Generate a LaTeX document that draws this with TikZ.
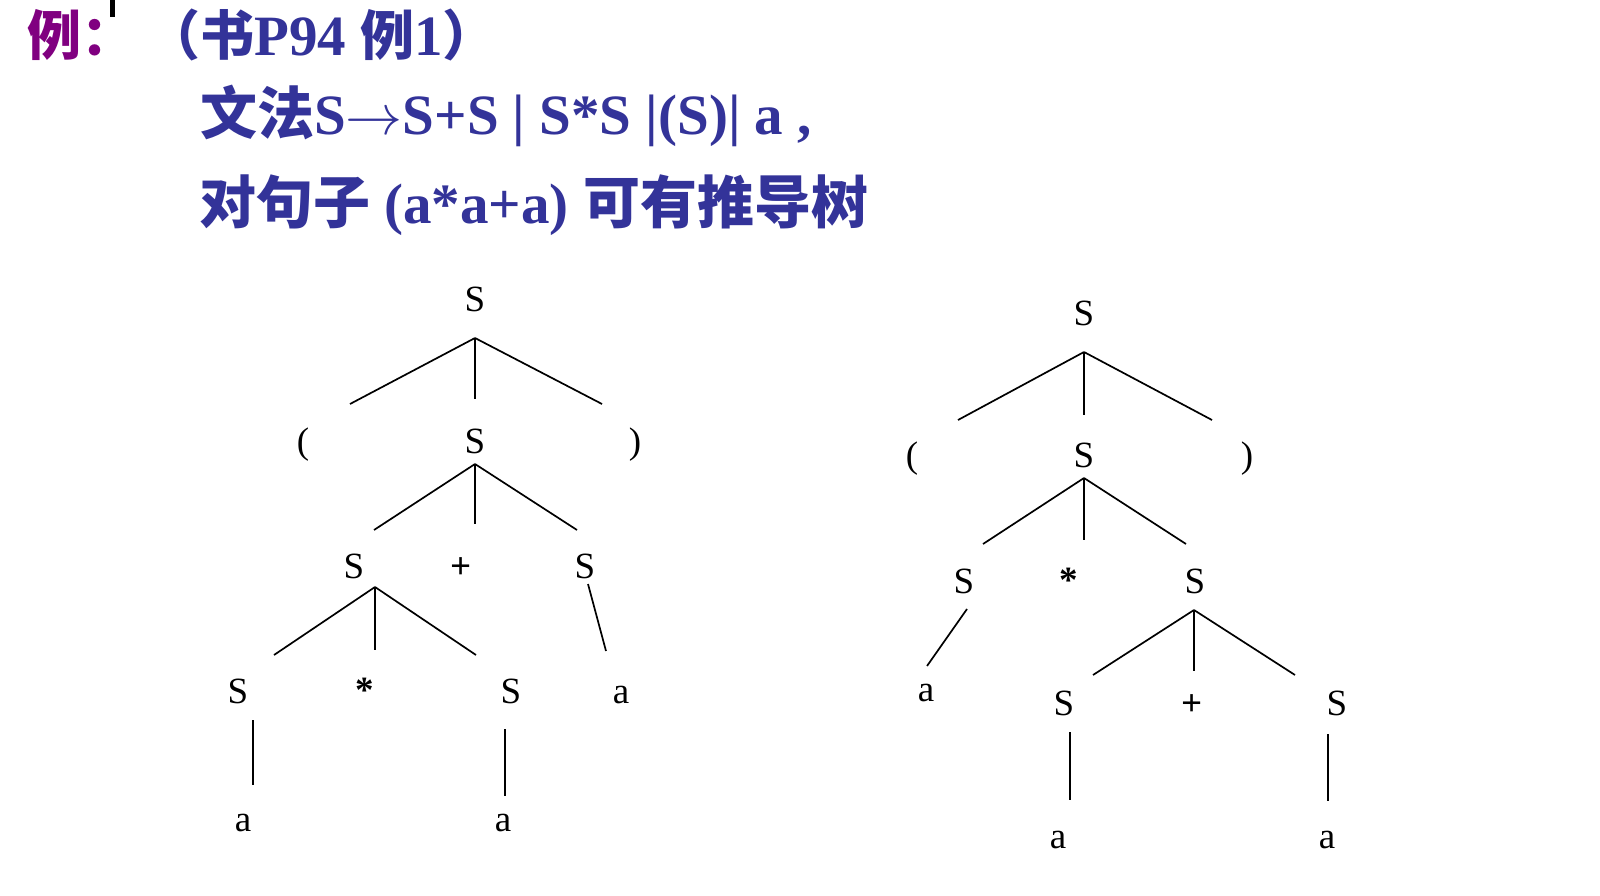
\RequirePackage{fix-cm}
\documentclass[tikz,border=0pt]{standalone}
\usepackage{fontspec}
\setmainfont{Liberation Serif}
\newfontfamily\cjk{Noto Sans CJK SC}
\definecolor{exPurple}{RGB}{128,0,128}
\definecolor{exBlue}{RGB}{51,51,153}
\begin{document}
\begin{tikzpicture}[x=1pt,y=-1pt,
  tt/.style={anchor=base west, inner sep=0pt, text=exBlue, font=\fontsize{57}{68}\selectfont\bfseries},
  tn/.style={anchor=base, inner sep=0pt, font=\fontsize{37}{42}\selectfont},
  to/.style={tn, font=\fontsize{37}{42}\selectfont\bfseries},
  br/.style={line width=1.7pt, black}]
\useasboundingbox (0,0) rectangle (1600,896);
\fill[black] (110,0) rectangle (115,17);
% title
\node[tt, text=exPurple] (ex) at (27,56) {{\cjk\fontsize{54}{64}\selectfont 例：}};
\node[tt] (src) at (146,56) {{\cjk\fontsize{54}{64}\selectfont （书}P94 {\cjk\fontsize{54}{64}\selectfont 例}1{\cjk\fontsize{54}{64}\selectfont ）}};
\node[tt] (gram) at (200,135) {{\cjk 文法}S$\rightarrow$S+S | S*S |(S)| a ,};
\node[tt] (sent) at (199,223) {{\cjk 对句子} (a*a+a) {\cjk 可有推导树}};
% left tree
\node[tn] (L0) at (475,311) {S};
\node[tn] (L1a) at (303,453) {(};
\node[tn] (L1b) at (475,453) {S};
\node[tn] (L1c) at (635,453) {)};
\node[tn] (L2a) at (354,578) {S};
\node[to] (L2b) at (461,578) {+};
\node[tn] (L2c) at (585,578) {S};
\node[tn] (L3a) at (238,703) {S};
\node[to] (L3b) at (365,702) {*};
\node[tn] (L3c) at (511,703) {S};
\node[tn] (L3d) at (621,703) {a};
\node[tn] (L4a) at (243,831) {a};
\node[tn] (L4b) at (503,831) {a};
\draw[br] ([shift={(0,27)}]L0.base) -- ([shift={(47,-49)}]L1a.base);
\draw[br] ([shift={(0,27)}]L0.base) -- ([shift={(0,-54)}]L1b.base);
\draw[br] ([shift={(0,27)}]L0.base) -- ([shift={(-33,-49)}]L1c.base);
\draw[br] ([shift={(0,11)}]L1b.base) -- ([shift={(20,-48)}]L2a.base);
\draw[br] ([shift={(0,11)}]L1b.base) -- ([shift={(14,-54)}]L2b.base);
\draw[br] ([shift={(0,11)}]L1b.base) -- ([shift={(-8,-48)}]L2c.base);
\draw[br] ([shift={(21,9)}]L2a.base) -- ([shift={(36,-48)}]L3a.base);
\draw[br] ([shift={(21,9)}]L2a.base) -- ([shift={(10,-52)}]L3b.base);
\draw[br] ([shift={(21,9)}]L2a.base) -- ([shift={(-35,-48)}]L3c.base);
\draw[br] ([shift={(3,6)}]L2c.base) -- ([shift={(-15,-52)}]L3d.base);
\draw[br] ([shift={(15,17)}]L3a.base) -- ([shift={(10,-46)}]L4a.base);
\draw[br] ([shift={(-6,26)}]L3c.base) -- ([shift={(2,-35)}]L4b.base);
% right tree
\node[tn] (R0) at (1084,325) {S};
\node[tn] (R1a) at (912,467) {(};
\node[tn] (R1b) at (1084,467) {S};
\node[tn] (R1c) at (1247,467) {)};
\node[tn] (R2a) at (964,593) {S};
\node[to] (R2b) at (1069,592) {*};
\node[tn] (R2c) at (1195,593) {S};
\node[tn] (R3a) at (926,701) {a};
\node[tn] (R3b) at (1064,715) {S};
\node[to] (R3c) at (1192,715) {+};
\node[tn] (R3d) at (1337,715) {S};
\node[tn] (R4a) at (1058,848) {a};
\node[tn] (R4b) at (1327,848) {a};
\draw[br] ([shift={(0,27)}]R0.base) -- ([shift={(46,-47)}]R1a.base);
\draw[br] ([shift={(0,27)}]R0.base) -- ([shift={(0,-52)}]R1b.base);
\draw[br] ([shift={(0,27)}]R0.base) -- ([shift={(-35,-47)}]R1c.base);
\draw[br] ([shift={(0,11)}]R1b.base) -- ([shift={(19,-49)}]R2a.base);
\draw[br] ([shift={(0,11)}]R1b.base) -- ([shift={(15,-52)}]R2b.base);
\draw[br] ([shift={(0,11)}]R1b.base) -- ([shift={(-9,-49)}]R2c.base);
\draw[br] ([shift={(3,16)}]R2a.base) -- ([shift={(1,-35)}]R3a.base);
\draw[br] ([shift={(-1,17)}]R2c.base) -- ([shift={(29,-40)}]R3b.base);
\draw[br] ([shift={(-1,17)}]R2c.base) -- ([shift={(2,-44)}]R3c.base);
\draw[br] ([shift={(-1,17)}]R2c.base) -- ([shift={(-42,-40)}]R3d.base);
\draw[br] ([shift={(6,17)}]R3b.base) -- ([shift={(12,-48)}]R4a.base);
\draw[br] ([shift={(-9,19)}]R3d.base) -- ([shift={(1,-47)}]R4b.base);
\end{tikzpicture}
\end{document}
